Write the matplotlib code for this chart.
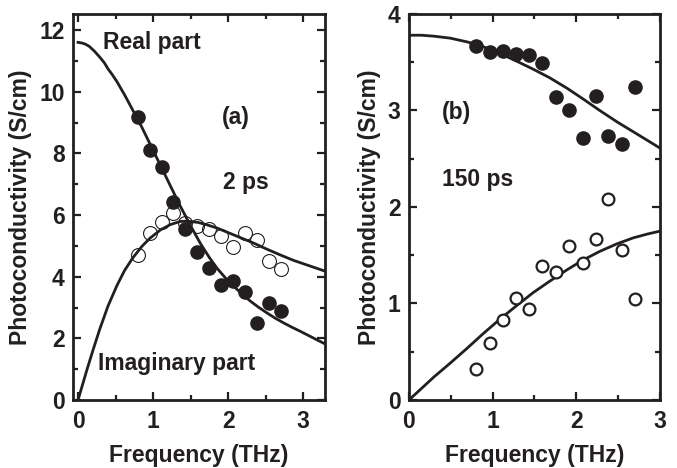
import matplotlib
matplotlib.use("Agg")
import matplotlib.pyplot as plt
import matplotlib.ticker as ticker

# panel (a): 2 ps
freq_a = [0.80, 0.96, 1.12, 1.27, 1.43, 1.59, 1.75, 1.91, 2.07, 2.23, 2.39, 2.55, 2.71]
real_a = [9.18, 8.11, 7.55, 6.42, 5.55, 4.80, 4.28, 3.74, 3.86, 3.50, 2.50, 3.14, 2.90]
imag_a = [4.70, 5.42, 5.77, 6.07, 5.74, 5.64, 5.55, 5.32, 4.96, 5.42, 5.19, 4.51, 4.25]

# fit curves
fit_f_real_a = [0.0, 0.05, 0.10, 0.15, 0.22, 0.29, 0.35, 0.40, 0.46, 0.52, 0.62, 0.73, 0.85,
                0.96, 1.07, 1.18, 1.27, 1.36, 1.50, 1.63, 1.75, 1.85, 1.96, 2.07, 2.20,
                2.30, 2.41, 2.52, 2.63, 2.74, 2.85, 2.96, 3.12, 3.29]
fit_real_a = [11.60, 11.58, 11.54, 11.47, 11.31, 11.12, 10.94, 10.74, 10.54, 10.32, 9.90, 9.40, 8.85,
              8.30, 7.75, 7.20, 6.75, 6.30, 5.65, 5.08, 4.62, 4.28, 3.97, 3.70, 3.40,
              3.20, 3.00, 2.82, 2.65, 2.50, 2.36, 2.23, 2.03, 1.82]
fit_f_imag_a = [0.0, 0.05, 0.12, 0.20, 0.29, 0.40, 0.52, 0.62, 0.73, 0.85, 0.96, 1.10, 1.23,
                1.36, 1.45, 1.60, 1.72, 1.85, 1.98, 2.15, 2.33, 2.50, 2.69, 2.87, 3.05, 3.29]
fit_imag_a = [0.0, 0.41, 0.99, 1.62, 2.30, 3.05, 3.72, 4.20, 4.61, 4.98, 5.25, 5.52, 5.69,
              5.79, 5.80, 5.76, 5.68, 5.58, 5.45, 5.28, 5.10, 4.91, 4.71, 4.53, 4.38, 4.18]

# panel (b): 150 ps
freq_b = [0.80, 0.97, 1.12, 1.28, 1.43, 1.59, 1.76, 1.91, 2.08, 2.23, 2.38, 2.54, 2.70]
real_b = [3.67, 3.61, 3.62, 3.59, 3.58, 3.49, 3.14, 3.01, 2.72, 3.15, 2.74, 2.65, 3.24]
imag_b = [0.32, 0.59, 0.83, 1.06, 0.94, 1.39, 1.33, 1.60, 1.42, 1.67, 2.08, 1.55, 1.05]

fit_f_b = [0.0, 0.15, 0.30, 0.49, 0.70, 0.89, 1.09, 1.29, 1.48, 1.68, 1.89, 2.08, 2.28, 2.49, 2.68, 2.85, 3.0]
fit_real_b = [3.78, 3.78, 3.77, 3.75, 3.71, 3.66, 3.59, 3.51, 3.43, 3.34, 3.23, 3.12, 3.00, 2.88, 2.78, 2.69, 2.61]
fit_imag_b = [0.0, 0.12, 0.24, 0.38, 0.54, 0.69, 0.84, 0.98, 1.11, 1.23, 1.35, 1.45, 1.54, 1.62, 1.68, 1.72, 1.75]

ink = "#231f20"
plt.rcParams["font.family"] = ["Liberation Sans", "DejaVu Sans"]
plt.rcParams["font.weight"] = "bold"
plt.rcParams["font.size"] = 16.5
plt.rcParams["text.color"] = ink
plt.rcParams["axes.labelcolor"] = ink
plt.rcParams["axes.labelweight"] = "bold"
plt.rcParams["xtick.color"] = ink
plt.rcParams["ytick.color"] = ink

fig = plt.figure(figsize=(6.77, 4.68), dpi=100)
ax1 = fig.add_axes([0.1078, 0.1453, 0.3722, 0.8248])
ax2 = fig.add_axes([0.6041, 0.1453, 0.3708, 0.8248])


def style_axes(ax, xmajor, xminor, ymajor, yminor):
    for s in ax.spines.values():
        s.set_linewidth(2.0)
        s.set_color(ink)
    ax.xaxis.set_major_locator(ticker.MultipleLocator(xmajor))
    ax.xaxis.set_minor_locator(ticker.MultipleLocator(xminor))
    ax.yaxis.set_major_locator(ticker.MultipleLocator(ymajor))
    ax.yaxis.set_minor_locator(ticker.MultipleLocator(yminor))
    ax.tick_params(which="both", direction="in", top=True, right=True, width=1.6)
    ax.tick_params(which="major", length=5.5, labelsize=16.5)
    ax.tick_params(axis="x", which="major", pad=7)
    ax.tick_params(axis="y", which="major", pad=6)
    ax.tick_params(which="minor", length=3.5)
    ax.set_xlabel("Frequency (THz)", fontsize=16.5, labelpad=8)
    ax.set_ylabel("Photoconductivity (S/cm)", fontsize=16.5, labelpad=5)


# (a)
ax1.plot(fit_f_real_a, fit_real_a, color=ink, lw=2.0, zorder=2)
ax1.plot(fit_f_imag_a, fit_imag_a, color=ink, lw=2.0, zorder=2)
ax1.plot(freq_a, imag_a, "o", ms=10, mfc="none", mec=ink, mew=0.8, zorder=3)
ax1.plot(freq_a, real_a, "o", ms=9.5, mfc=ink, mec=ink, zorder=4)
ax1.set_xlim(-0.067, 3.29)
ax1.set_ylim(0, 12.52)
style_axes(ax1, 1, 0.5, 2, 1)
ax1.text(0.33, 11.61, "Real part", ha="left", va="center")
ax1.text(1.92, 9.15, "(a)", ha="left", va="center")
ax1.text(1.93, 7.04, "2 ps", ha="left", va="center")
ax1.text(0.27, 1.17, "Imaginary part", ha="left", va="center")

# (b)
ax2.plot(fit_f_b, fit_real_b, color=ink, lw=2.0, zorder=2)
ax2.plot(fit_f_b, fit_imag_b, color=ink, lw=2.0, zorder=2)
ax2.plot(freq_b, real_b, "o", ms=9.5, mfc=ink, mec=ink, zorder=4)
ax2.plot(freq_b, imag_b, "o", ms=8.5, mfc="white", mec=ink, mew=1.6, zorder=3)
ax2.set_xlim(0, 3)
ax2.set_ylim(0, 4)
style_axes(ax2, 1, 0.5, 1, 0.5)
ax2.text(0.39, 2.98, "(b)", ha="left", va="center")
ax2.text(0.39, 2.28, "150 ps", ha="left", va="center")

fig.savefig("out.png", dpi=100)
